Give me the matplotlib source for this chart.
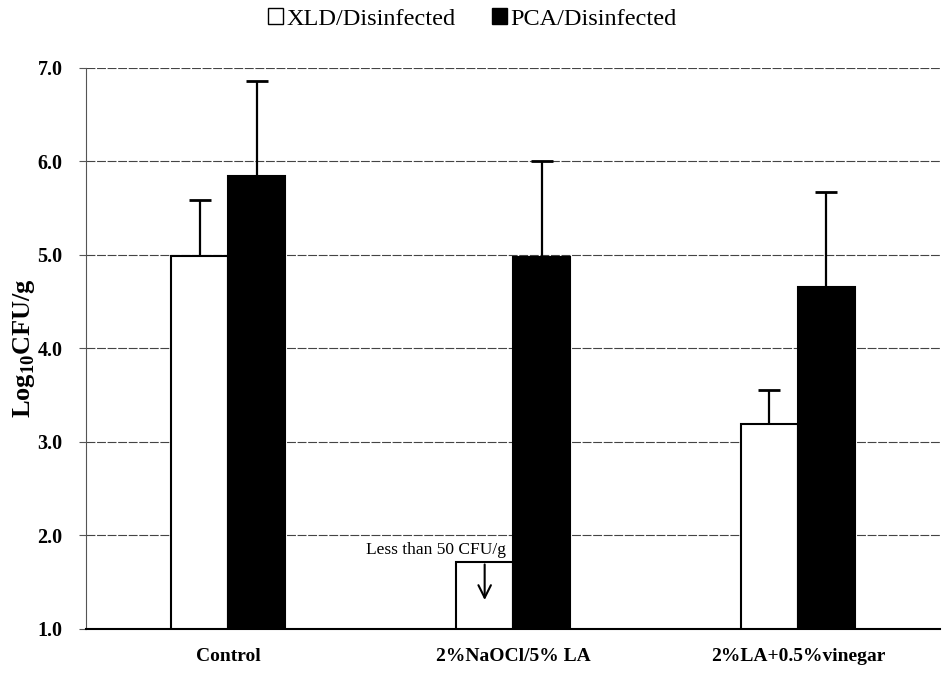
import matplotlib.pyplot as plt
from matplotlib.patches import Patch
import numpy as np

# data
treatments = ["Control", "2%NaOCl/5% LA", "2%LA+0.5%vinegar"]
xld_mean = [4.99, 1.72, 3.19]
xld_err = [0.60, 0.0, 0.37]
pca_mean = [5.85, 4.98, 4.66]
pca_err = [1.01, 1.02, 1.01]
series_names = ["XLD/Disinfected", "PCA/Disinfected"]
yticks = [1.0, 2.0, 3.0, 4.0, 5.0, 6.0, 7.0]

plt.rcParams['font.family'] = ['Liberation Serif', 'DejaVu Serif']
plt.rcParams['mathtext.fontset'] = 'custom'
plt.rcParams['mathtext.rm'] = 'Liberation Serif:bold'
plt.rcParams['mathtext.bf'] = 'Liberation Serif:bold'

fig = plt.figure(figsize=(9.45, 6.73), dpi=100)
ax = fig.add_axes([0.091, 0.0654, 0.904, 0.8336])

x = np.arange(len(treatments))
w = 0.2
ax.bar(x - w/2, np.array(xld_mean) - 1.0, w, bottom=1.0, color="white",
       edgecolor="black", linewidth=1.5, zorder=3)
ax.bar(x + w/2, np.array(pca_mean) - 1.0, w, bottom=1.0, color="black",
       edgecolor="black", linewidth=1.5, zorder=3)

# upper error bars only (no bar for the <50 CFU/g case)
def upper_err(xpos, m, e, z):
    eb = ax.errorbar(xpos, m, yerr=[[0], [e]], fmt="none", ecolor="black",
                     elinewidth=1.6, capsize=8, capthick=2, zorder=z)
    eb[1][0].set_visible(False)   # drop the lower cap

for i in range(len(treatments)):
    if xld_err[i] > 0:
        upper_err(x[i] - w/2, xld_mean[i], xld_err[i], 4)
    upper_err(x[i] + w/2, pca_mean[i], pca_err[i], 2)

# detection limit note
ax.annotate("", xy=(x[1] - w/2, 1.28), xytext=(x[1] - w/2, xld_mean[1]),
            arrowprops=dict(arrowstyle="->,head_length=0.9,head_width=0.45",
                            color="black", lw=1.5), zorder=5)
ax.text(x[1] - 0.27, 1.84, "Less than 50 CFU/g", ha="center", va="center",
        fontsize=12.5, zorder=5,
        bbox=dict(facecolor="white", edgecolor="none", pad=0.5))

ax.set_xlim(-0.5, 2.5)
ax.set_ylim(1.0, 7.0)
ax.set_yticks(yticks)
ax.set_yticklabels(["%.1f" % t for t in yticks], fontsize=14.5, fontweight="bold")
ax.set_xticks(x)
ax.set_xticklabels(treatments, fontsize=14, fontweight="bold")
ax.tick_params(axis="x", length=0, pad=14)
ax.tick_params(axis="y", direction="out", length=5, width=0.8, color="#555555", pad=12)
ax.set_ylabel(r"Log$_{10}$CFU/g", fontsize=19, fontweight="bold", labelpad=0)

ax.yaxis.grid(True, color="#444444", linestyle=(0, (8, 1.5)), linewidth=0.8, zorder=0)
ax.set_axisbelow(True)
for s in ["top", "right"]:
    ax.spines[s].set_visible(False)
ax.spines["left"].set_color("#555555")
ax.spines["left"].set_linewidth(0.8)
ax.spines["bottom"].set_linewidth(1.5)

handles = [Patch(facecolor="white", edgecolor="black", linewidth=1),
           Patch(facecolor="black", edgecolor="black", linewidth=1)]
fig.legend(handles, series_names, loc="upper center", bbox_to_anchor=(0.5, 1.02),
           ncol=2, frameon=False, fontsize=17.5, handlelength=0.6, handleheight=0.6,
           handletextpad=0.15, columnspacing=1.5)

fig.savefig("out.png", dpi=100)
